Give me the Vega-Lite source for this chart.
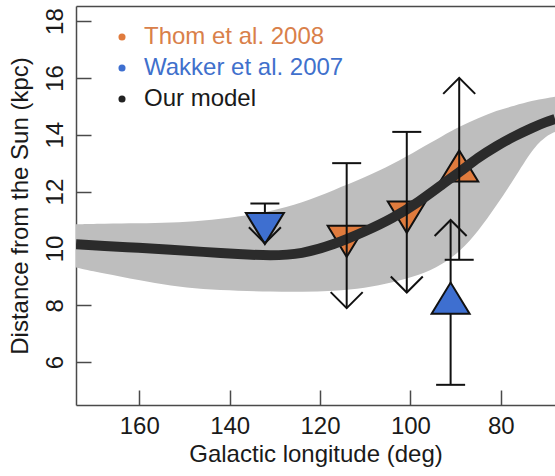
{
  "$schema": "https://vega.github.io/schema/vega-lite/v6.json",
  "width": 479,
  "height": 399,
  "autosize": {"type": "none"},
  "padding": {"left": 76, "top": 6, "right": 0, "bottom": 71},
  "background": "white",
  "datasets": {
    "model": [
      {"lon": 174, "lower": 9.33, "upper": 10.85, "fit": 10.15},
      {"lon": 168, "lower": 9.12, "upper": 10.87, "fit": 10.09},
      {"lon": 160, "lower": 8.88, "upper": 10.88, "fit": 10.02},
      {"lon": 153, "lower": 8.68, "upper": 10.9, "fit": 9.95},
      {"lon": 146, "lower": 8.56, "upper": 10.97, "fit": 9.88},
      {"lon": 138, "lower": 8.51, "upper": 11.12, "fit": 9.8},
      {"lon": 131, "lower": 8.48, "upper": 11.3, "fit": 9.74},
      {"lon": 124, "lower": 8.47, "upper": 11.6, "fit": 9.8},
      {"lon": 117, "lower": 8.5, "upper": 12.05, "fit": 10.13},
      {"lon": 110, "lower": 8.6, "upper": 12.5, "fit": 10.6},
      {"lon": 104, "lower": 8.8, "upper": 12.95, "fit": 11.05},
      {"lon": 98, "lower": 9.05, "upper": 13.5, "fit": 11.65},
      {"lon": 93, "lower": 9.42, "upper": 13.95, "fit": 12.25},
      {"lon": 89, "lower": 9.9, "upper": 14.3, "fit": 12.7},
      {"lon": 85, "lower": 10.6, "upper": 14.58, "fit": 13.2},
      {"lon": 81, "lower": 11.5, "upper": 14.85, "fit": 13.6},
      {"lon": 77, "lower": 12.45, "upper": 15.02, "fit": 13.95},
      {"lon": 73, "lower": 13.5, "upper": 15.2, "fit": 14.25},
      {"lon": 70, "lower": 13.95, "upper": 15.28, "fit": 14.45},
      {"lon": 68, "lower": 14.1, "upper": 15.34, "fit": 14.55}
    ],
    "clouds": [
      {"source": "Thom et al. 2008", "lon": 114.1, "dist": 10.25, "cap": 13.0, "arrow": 7.9, "limit": "upper"},
      {"source": "Thom et al. 2008", "lon": 100.8, "dist": 11.1, "cap": 14.1, "arrow": 8.45, "limit": "upper"},
      {"source": "Thom et al. 2008", "lon": 89.2, "dist": 12.9, "cap": 9.6, "arrow": 16.0, "limit": "lower"},
      {"source": "Wakker et al. 2007", "lon": 132.2, "dist": 10.7, "cap": 11.58, "arrow": 10.18, "limit": "upper"},
      {"source": "Wakker et al. 2007", "lon": 91.1, "dist": 8.25, "cap": 5.2, "arrow": 11.0, "limit": "lower"}
    ]
  },
  "layer": [
    {
      "data": {"name": "model"},
      "mark": {"type": "area", "color": "#bebebe", "interpolate": "basis", "clip": true},
      "encoding": {
        "x": {
          "field": "lon", "type": "quantitative",
          "scale": {"domain": [68, 174], "reverse": true, "nice": false, "zero": false},
          "axis": {"orient": "bottom", "values": [160, 140, 120, 100, 80], "title": "Galactic longitude (deg)", "labelPadding": 24, "titlePadding": 4}
        },
        "y": {
          "field": "lower", "type": "quantitative",
          "scale": {"domain": [4.49, 18.53], "nice": false, "zero": false},
          "axis": {"values": [6, 8, 10, 12, 14, 16, 18], "labelAngle": -90, "labelAlign": "center", "labelBaseline": "bottom", "labelPadding": 24, "titlePadding": 11},
          "title": "Distance from the Sun (kpc)"
        },
        "y2": {"field": "upper"}
      }
    },
    {
      "data": {"name": "clouds"},
      "transform": [{"filter": "datum.source === 'Thom et al. 2008'"}],
      "mark": {"type": "point", "filled": true, "opacity": 1, "stroke": "#111111", "strokeWidth": 2, "size": 1444},
      "encoding": {
        "x": {"field": "lon", "type": "quantitative", "axis": null},
        "y": {"field": "dist", "type": "quantitative", "title": "Distance from the Sun (kpc)"},
        "fill": {
          "field": "source", "type": "nominal",
          "scale": {"domain": ["Thom et al. 2008", "Wakker et al. 2007", "Our model"], "range": ["#e07b3d", "#3e6fd0", "#222222"]},
          "legend": {
            "orient": "none", "legendX": 34, "legendY": 19, "title": null, "padding": 0,
            "symbolType": "circle", "symbolSize": 50, "symbolStrokeWidth": 0, "symbolOpacity": 1,
            "labelFontSize": 24, "labelOffset": 10, "rowPadding": 7, "labelLimit": 400,
            "labelColor": {"expr": "datum.label === 'Thom et al. 2008' ? '#d9804a' : datum.label === 'Wakker et al. 2007' ? '#4070cc' : '#1a1a1a'"}
          }
        },
        "shape": {
          "field": "limit", "type": "nominal",
          "scale": {"domain": ["upper", "lower"], "range": ["M-1,-0.82L1,-0.82L0,0.82Z", "M-1,0.82L1,0.82L0,-0.82Z"]},
          "legend": null
        }
      }
    },
    {
      "data": {"name": "model"},
      "mark": {"type": "line", "color": "#2b2b2b", "strokeWidth": 10, "interpolate": "basis", "clip": true},
      "encoding": {
        "x": {"field": "lon", "type": "quantitative", "axis": {"orient": "top", "labels": false, "ticks": false, "title": null, "domain": true}},
        "y": {"field": "fit", "type": "quantitative", "title": "Distance from the Sun (kpc)"}
      }
    },
    {
      "data": {"name": "clouds"},
      "mark": {"type": "rule", "color": "#111111", "strokeWidth": 2},
      "encoding": {
        "x": {"field": "lon", "type": "quantitative", "axis": null},
        "y": {"field": "cap", "type": "quantitative", "title": "Distance from the Sun (kpc)"},
        "y2": {"field": "arrow"}
      }
    },
    {
      "data": {"name": "clouds"},
      "mark": {"type": "point", "filled": false, "opacity": 1, "stroke": "#111111", "strokeWidth": 2, "size": 841, "shape": "M-1,0L1,0"},
      "encoding": {
        "x": {"field": "lon", "type": "quantitative", "axis": null},
        "y": {"field": "cap", "type": "quantitative", "title": "Distance from the Sun (kpc)"}
      }
    },
    {
      "data": {"name": "clouds"},
      "transform": [{"filter": "datum.source === 'Wakker et al. 2007'"}],
      "mark": {"type": "point", "filled": true, "opacity": 1, "stroke": "#111111", "strokeWidth": 2, "size": 1444},
      "encoding": {
        "x": {"field": "lon", "type": "quantitative", "axis": null},
        "y": {"field": "dist", "type": "quantitative", "title": "Distance from the Sun (kpc)"},
        "fill": {"field": "source", "type": "nominal"},
        "shape": {
          "field": "limit", "type": "nominal",
          "scale": {"domain": ["upper", "lower"], "range": ["M-1,-0.82L1,-0.82L0,0.82Z", "M-1,0.82L1,0.82L0,-0.82Z"]},
          "legend": null
        }
      }
    },
    {
      "data": {"name": "clouds"},
      "mark": {"type": "point", "filled": false, "opacity": 1, "stroke": "#111111", "strokeWidth": 2, "size": 1024},
      "encoding": {
        "x": {"field": "lon", "type": "quantitative", "axis": null},
        "y": {"field": "arrow", "type": "quantitative", "title": "Distance from the Sun (kpc)"},
        "shape": {
          "field": "limit", "type": "nominal",
          "scale": {"domain": ["upper", "lower"], "range": ["M-1,-1L0,0L1,-1", "M-1,1L0,0L1,1"]},
          "legend": null
        }
      }
    }
  ],
  "resolve": {"axis": {"x": "independent"}, "scale": {"shape": "independent"}},
  "config": {
    "font": "Liberation Sans",
    "view": {"stroke": null},
    "axis": {
      "labelFontSize": 24, "titleFontSize": 24, "titleFontWeight": "normal",
      "labelColor": "#1a1a1a", "titleColor": "#1a1a1a",
      "domainColor": "#4a4a4a", "tickColor": "#4a4a4a", "domainWidth": 1.5, "tickWidth": 1.5,
      "tickSize": -15, "grid": false, "labelFlush": false
    },
    "legend": {"labelFont": "Liberation Sans"}
  }
}
